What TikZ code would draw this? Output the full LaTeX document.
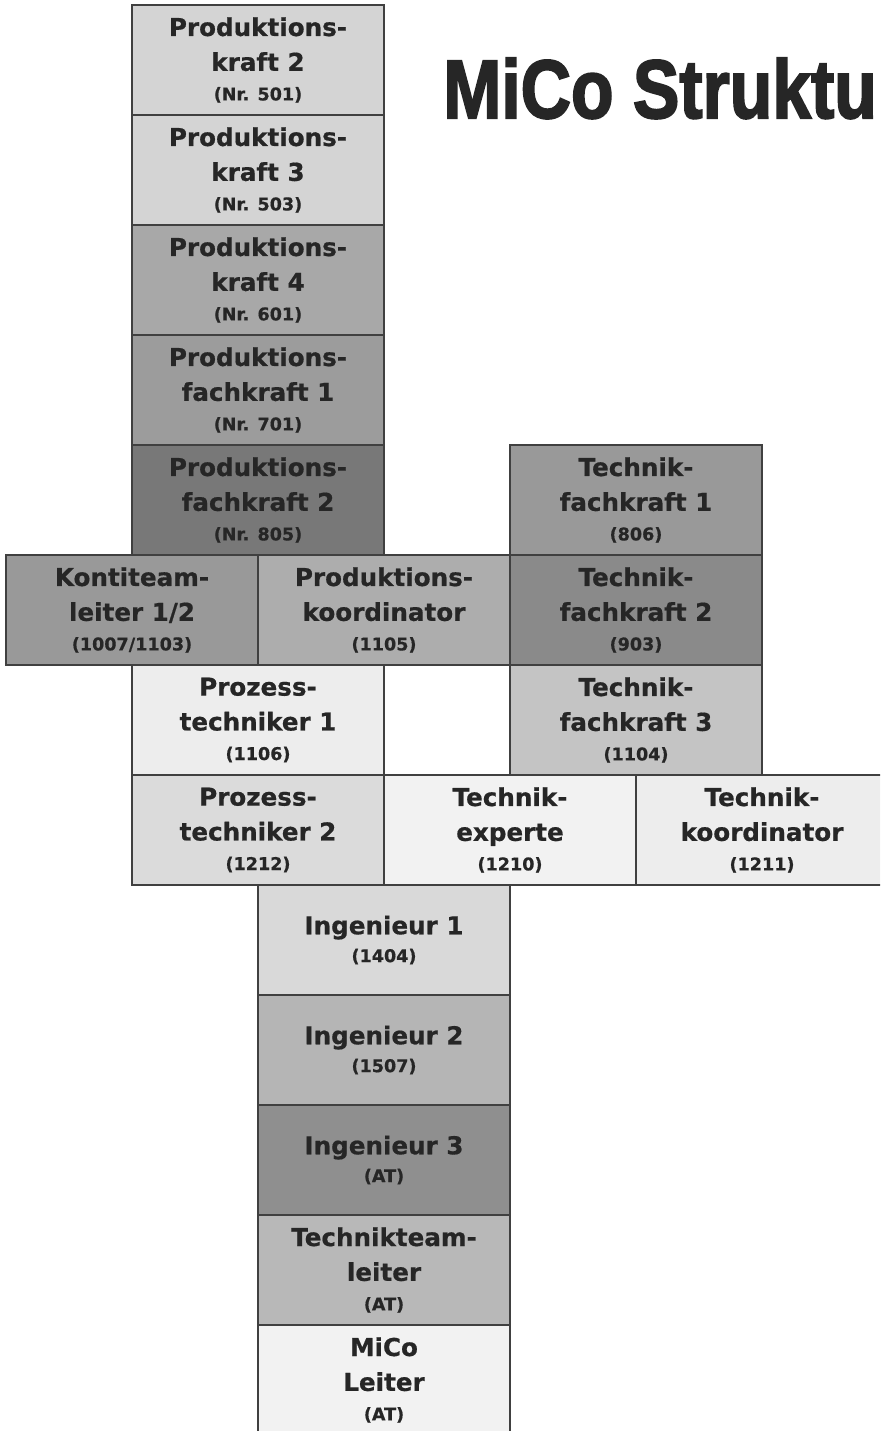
\documentclass[tikz,border=0pt]{standalone}
\usepackage{fontspec}
\usepackage{graphicx}
\setmainfont{DejaVu Sans}[BoldFeatures={FakeBold=0.6}]
\newfontfamily\titlefont{Liberation Sans}[BoldFeatures={FakeBold=2.5}]
\usepackage{tikz}

% small line with the number of the position
\newcommand{\posnr}[1]{{\fontsize{12.5}{14}\selectfont #1}}

\begin{document}
\begin{tikzpicture}[x=0.025cm, y=-0.025cm,
    posbox/.style={draw=black!75, line width=1pt, minimum width=6.3cm,
      minimum height=2.75cm, inner sep=0pt, align=center, text=black!85,
      font=\fontsize{17.5}{24.8}\selectfont\bfseries}]
    \clip (0, 0) rectangle (880, 1431);

    % Title, cut at the right edge
    \node[anchor=base west, inner sep=0pt, text=black!85] (title) at (443, 118)
      {\scalebox{0.84}[1]{\titlefont\bfseries\fontsize{59}{60}\selectfont MiCo Struktu}};

    % Production column
    \node[posbox, fill=black!17] (pk2) at (258, 60)
      {Produktions-\\kraft 2\\[-3.8pt]\posnr{(Nr. 501)}};
    \node[posbox, fill=black!17] (pk3) at (258, 170)
      {Produktions-\\kraft 3\\[-3.8pt]\posnr{(Nr. 503)}};
    \node[posbox, fill=black!34] (pk4) at (258, 280)
      {Produktions-\\kraft 4\\[-3.8pt]\posnr{(Nr. 601)}};
    \node[posbox, fill=black!39] (pfk1) at (258, 390)
      {Produktions-\\fachkraft 1\\[-3.8pt]\posnr{(Nr. 701)}};
    \node[posbox, fill=black!53] (pfk2) at (258, 500)
      {Produktions-\\fachkraft 2\\[-3.8pt]\posnr{(Nr. 805)}};

    % Technik column
    \node[posbox, fill=black!40] (tfk1) at (636, 500)
      {Technik-\\fachkraft 1\\[-3.8pt]\posnr{(806)}};
    \node[posbox, fill=black!46] (tfk2) at (636, 610)
      {Technik-\\fachkraft 2\\[-3.8pt]\posnr{(903)}};
    \node[posbox, fill=black!23] (tfk3) at (636, 720)
      {Technik-\\fachkraft 3\\[-3.8pt]\posnr{(1104)}};

    % Middle rows
    \node[posbox, fill=black!40] (konti) at (132, 610)
      {Kontiteam-\\leiter 1/2\\[-3.8pt]\posnr{(1007/1103)}};
    \node[posbox, fill=black!32] (pkoord) at (384, 610)
      {Produktions-\\koordinator\\[-3.8pt]\posnr{(1105)}};
    \node[posbox, fill=black!7] (pt1) at (258, 720)
      {Prozess-\\techniker 1\\[-3.8pt]\posnr{(1106)}};
    \node[posbox, fill=black!14] (pt2) at (258, 830)
      {Prozess-\\techniker 2\\[-3.8pt]\posnr{(1212)}};
    \node[posbox, fill=black!5] (texp) at (510, 830)
      {Technik-\\experte\\[-3.8pt]\posnr{(1210)}};
    \node[posbox, fill=black!7] (tkoord) at (762, 830)
      {Technik-\\koordinator\\[-3.8pt]\posnr{(1211)}};

    % Engineering column
    \node[posbox, fill=black!15] (ing1) at (384, 940)
      {Ingenieur 1\\[-5pt]\posnr{(1404)}};
    \node[posbox, fill=black!29] (ing2) at (384, 1050)
      {Ingenieur 2\\[-5pt]\posnr{(1507)}};
    \node[posbox, fill=black!44] (ing3) at (384, 1160)
      {Ingenieur 3\\[-5pt]\posnr{(AT)}};
    \node[posbox, fill=black!28] (ttl) at (384, 1270)
      {Technikteam-\\leiter\\[-3.8pt]\posnr{(AT)}};
    \node[posbox, fill=black!5] (leiter) at (384, 1380)
      {MiCo\\Leiter\\[-3.8pt]\posnr{(AT)}};
  \end{tikzpicture}
\end{document}
